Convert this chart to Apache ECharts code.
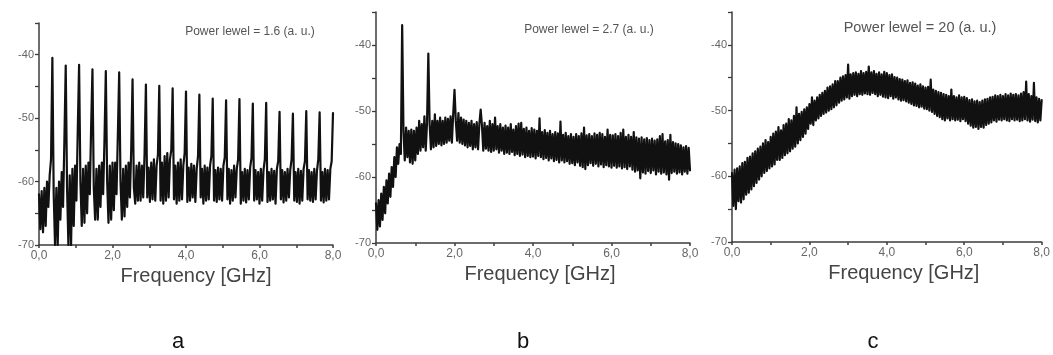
<!DOCTYPE html>
<html>
<head>
<meta charset="utf-8">
<script src="https://cdn.jsdelivr.net/npm/echarts@6/dist/echarts.min.js"></script>
<style>
html,body{margin:0;padding:0;background:#fff;}
#chart{width:1053px;height:355px;}
</style>
</head>
<body>
<div id="chart"></div>
<script>
// Frequency sampling: panel a 0..8 GHz in 220 steps, panels b,c 0..8 GHz in 240 steps
const freqMaxGHz = 8;
const titles = ['Power lewel = 1.6 (a. u.)', 'Power lewel = 2.7 (a. u.)', 'Power lewel = 20 (a. u.)'];
const panelLetters = ['a', 'b', 'c'];
const xName = 'Frequency [GHz]';
const xTicks = [0, 2, 4, 6, 8];
const yTicks = [-70, -60, -50, -40];

// Panel a: power level 1.6 (dB)
const powerA = [
  -62, -67.5, -61.5, -68, -61, -67, -60, -64, -59, -56.5,
  -40.5, -62, -70, -61, -70, -60, -66, -58.5, -64, -53.5,
  -41.7, -61, -70, -59, -70, -58, -67, -57.5, -63, -52,
  -41.6, -60, -67, -58, -66.5, -57.5, -65, -57, -62, -51.5,
  -42.3, -61, -66, -58, -66, -57.5, -64, -57, -62, -53.5,
  -42.6, -60, -66.5, -57.5, -66, -57, -64.5, -57, -62, -52.7,
  -42.8, -60, -66, -58, -65.5, -57.5, -64, -57, -62.5, -55,
  -43.9, -61, -63.5, -57.5, -63, -57, -63, -57.5, -62.5, -55.5,
  -44.7, -62.5, -57.8, -63.2, -57, -62.8, -56.5, -63, -57.5, -55.8,
  -44.9, -63, -57, -63.5, -56, -63, -55.5, -62.5, -56.5, -55,
  -45.3, -62.8, -57.5, -63.5, -57, -63, -56.5, -62.8, -57.5, -55.5,
  -45.8, -63.2, -57.8, -63, -57.2, -62.5, -57.5, -63.2, -58, -56,
  -46.3, -62.5, -58, -63.5, -57.5, -63, -57.8, -62.8, -57.5, -56,
  -46.9, -63, -58.2, -63.2, -57.8, -62.8, -58, -63, -57.5, -56.2,
  -47.2, -62.8, -58, -63.5, -58.2, -63, -57.5, -62.5, -58, -56.5,
  -47.0, -63.5, -58.5, -63, -58, -63.3, -58.2, -62.8, -57.8, -56.3,
  -47.7, -63, -58.2, -62.8, -58.5, -63.5, -58, -63, -58.2, -56.5,
  -47.6, -63.2, -58.5, -63, -58, -62.8, -58.3, -63.5, -58, -56.8,
  -49.0, -62.8, -58.2, -63.3, -58.5, -63, -58, -62.5, -58.2, -56.5,
  -49.3, -63, -58.5, -63.2, -58, -63.5, -58.3, -63, -58, -56.8,
  -48.9, -62.8, -58.2, -63, -58.5, -63.2, -58, -62.8, -58.3, -56.5,
  -49.1, -63, -58.5, -63.3, -58, -63, -58.2, -62.8, -58, -56.8,
  -49.2
];

// Panel b: power level 2.7
const powerB = [
  -64, -68, -63.5, -67.5, -62.5, -66.5, -61.5, -65.5, -60.5, -64,
  -59.5, -63, -58.5, -61.5, -57, -60, -55.5, -58, -55, -56.5,
  -37, -53, -57.5, -52.5, -57, -53, -57.8, -52.8, -58, -53,
  -57.5, -52.5, -56.5, -51.5, -56, -52, -55.5, -50.8, -56, -51.8,
  -41.3, -52, -55.8, -51.5, -55.5, -50.5, -55.3, -51.5, -55, -51,
  -55.2, -51.5, -55, -51, -54.8, -51.2, -54.5, -50.8, -54.8, -50.5,
  -46.8, -51.5, -54.5, -50.3, -54.8, -51, -55, -51.3, -55.2, -51.5,
  -55.5, -51.8, -55.3, -51.5, -55.8, -52, -55.5, -51.7, -55.8, -52,
  -49.8, -52.2, -56, -51.8, -55.7, -52.3, -56, -51.5, -56.2, -52,
  -56, -51, -55.8, -52.3, -56.3, -52, -56, -52.5, -56.5, -52.2,
  -56.3, -52.5, -56.5, -52, -56.2, -52.8, -56.7, -52.3, -56.5, -51.9,
  -56.8, -51.8, -56.6, -52.7, -57, -52.5, -56.8, -53, -57, -52.6,
  -56.9, -52.8, -57.2, -53, -56.8, -51.1, -57, -53.2, -57.3, -52.9,
  -57.1, -53.3, -57.5, -53, -57.2, -53.5, -57.6, -53.2, -57.4, -53.4,
  -57.8, -51.6, -57.5, -53.6, -57.8, -53.3, -57.6, -53.8, -58, -53.5,
  -57.9, -53.9, -58.2, -53.5, -57.8, -53.8, -58.3, -53.4, -58.5, -52.5,
  -58.8, -53.7, -58.2, -53.5, -57.9, -53.8, -58.3, -53.4, -58, -53.6,
  -58.4, -53.3, -58.1, -53.5, -58.5, -53.9, -58.2, -52.8, -58.4, -53.6,
  -58.6, -53.7, -58.3, -53.5, -58.6, -53.8, -58.4, -53.3, -58.7, -52.8,
  -58.5, -53.9, -58.8, -53.6, -58.4, -53.9, -58.9, -53.2, -59.2, -54,
  -59, -54.2, -60.2, -54, -59.3, -54.3, -59.5, -54.1, -59.1, -54.4,
  -59.4, -54.2, -59, -54.5, -59.6, -54.3, -59.2, -53.8, -59.5, -53.5,
  -59.3, -54.6, -59.6, -54.4, -60.4, -53.6, -59.4, -54.7, -59.2, -54.9,
  -59.5, -55, -59.3, -55.2, -59.6, -55.5, -59.2, -55.3, -59.5, -55.6,
  -59
];

// Panel c: power level 20
const powerC = [
  -59.5, -64.5, -59, -65, -58.8, -63.8, -58.5, -64, -58, -63.5,
  -57.8, -62.8, -57.2, -62.5, -57, -62, -56.5, -61.5, -56.2, -61,
  -55.8, -60.5, -55.5, -60, -55, -59.5, -54.5, -59.2, -54.8, -58.8,
  -54, -58.5, -53.5, -58.2, -53.2, -57.5, -52.5, -57.5, -53, -57.2,
  -52.2, -56.8, -52, -56.5, -51.3, -56.2, -51.5, -55.8, -50.8, -55.5,
  -49.5, -55, -50.5, -54.5, -50.2, -54, -49.8, -53.5, -49.5, -52.8,
  -49, -52, -48, -52.2, -48.5, -51.5, -48, -51.2, -47.6, -50.8,
  -47.3, -50.5, -47, -50.3, -46.5, -50, -46.3, -49.8, -46, -49.5,
  -45.5, -49.2, -45.5, -48.8, -45, -48.5, -44.8, -48.3, -44.6, -48,
  -43, -48.2, -44.5, -47.8, -44.3, -47.6, -44.2, -47.8, -44.4, -47.5,
  -44, -47.6, -44.3, -47.4, -44.1, -47.5, -43.3, -47.6, -44.2, -47.3,
  -44, -47.5, -44.4, -47.8, -44.2, -47.6, -44.5, -47.9, -44.1, -48,
  -44.3, -48.1, -44.6, -47.8, -44.5, -48.2, -44.9, -48, -45, -48.3,
  -45.2, -48.5, -45.3, -48.4, -45.5, -48.6, -45.4, -48.8, -45.8, -49,
  -45.7, -49.2, -45.9, -49.3, -46.2, -49.5, -46, -49.4, -46.3, -49.7,
  -46.5, -49.8, -46.4, -50, -45.3, -50.2, -46.8, -50.5, -47, -50.8,
  -47.2, -51, -47.3, -51.3, -47.5, -51.5, -47.6, -51.2, -47.8, -51.5,
  -46.8, -51.3, -47.8, -51.5, -48, -51.4, -47.7, -51.6, -48, -51.3,
  -47.9, -51.6, -48.1, -52, -48.4, -52.3, -48.3, -52.6, -48.6, -52.5,
  -48.5, -52.8, -48.7, -52.5, -48.5, -52.6, -48.3, -52.2, -48.2, -52,
  -48, -51.8, -47.9, -51.5, -47.7, -51.7, -47.8, -51.4, -47.6, -51.5,
  -47.8, -51.3, -47.5, -51.5, -47.7, -51.6, -47.4, -51.3, -47.6, -51.5,
  -47.5, -51.4, -47.7, -51.6, -47.4, -51.5, -47.2, -51.3, -45.6, -51.5,
  -47.5, -51.7, -47.8, -51.4, -45.8, -51.6, -48, -51.8, -48.2, -51.5,
  -48.4
];

function withFreq(values) {
  const step = freqMaxGHz / (values.length - 1);
  return values.map((v, i) => [i * step, v]);
}

const FONT = 'Liberation Sans, Arial, sans-serif';
const grids = [
  { left: 39, top: 23, width: 294, height: 222 },
  { left: 376, top: 12, width: 314, height: 231 },
  { left: 732, top: 12, width: 312, height: 230 }
];
const namePad = [20, 14, 34];
const titlePos = [[250, 32, 12], [589, 30, 12], [920, 28, 14.5]];
const letterPos = [[178, 342], [523, 342], [873, 342]];
const seriesData = [powerA, powerB, powerC];

const xAxes = grids.map((g, k) => ({
  type: 'value', gridIndex: k, min: 0, max: freqMaxGHz, interval: 1,
  name: xName, nameLocation: 'middle', nameGap: 18,
  nameTextStyle: { fontSize: 20, color: '#444', fontFamily: FONT, padding: [0, 0, 0, namePad[k]] },
  axisLine: { show: true, onZero: false, lineStyle: { color: '#3c3c3c', width: 1.5 } },
  axisTick: { show: true, length: 3, lineStyle: { color: '#3c3c3c', width: 1.5 } },
  axisLabel: {
    margin: 5, fontSize: 12, color: '#666', fontFamily: FONT,
    formatter: v => xTicks.includes(v) ? v.toFixed(1).replace('.', ',') : ''
  },
  splitLine: { show: false }
}));

const yAxes = grids.map((g, k) => ({
  type: 'value', gridIndex: k, min: -70, max: -35, interval: 5,
  axisLine: { show: true, onZero: false, lineStyle: { color: '#3c3c3c', width: 1.5 } },
  axisTick: { show: true, length: 4, lineStyle: { color: '#3c3c3c', width: 1.3 } },
  axisLabel: {
    margin: 5, fontSize: 11, color: '#666', fontFamily: FONT,
    formatter: v => yTicks.includes(v) ? String(v) : ''
  },
  splitLine: { show: false }
}));

const series = seriesData.map((d, k) => ({
  type: 'line', xAxisIndex: k, yAxisIndex: k, data: withFreq(d),
  showSymbol: false, symbol: 'none', silent: true,
  lineStyle: { color: '#111', width: 2.2, join: 'round', cap: 'round' }
}));

const graphic = [];
titles.forEach((t, k) => {
  graphic.push({ type: 'text', x: titlePos[k][0], y: titlePos[k][1], silent: true,
    style: { text: t, fontSize: titlePos[k][2], fontFamily: FONT, fill: '#555', align: 'center', verticalAlign: 'middle' } });
});
panelLetters.forEach((t, k) => {
  graphic.push({ type: 'text', x: letterPos[k][0], y: letterPos[k][1], silent: true,
    style: { text: t, fontSize: 22, fontFamily: FONT, fill: '#111', align: 'center', verticalAlign: 'middle' } });
});

const chart = echarts.init(document.getElementById('chart'), null, { renderer: 'canvas' });
chart.setOption({
  animation: false,
  backgroundColor: '#fff',
  grid: grids,
  xAxis: xAxes,
  yAxis: yAxes,
  series: series,
  graphic: graphic
});
</script>
</body>
</html>
